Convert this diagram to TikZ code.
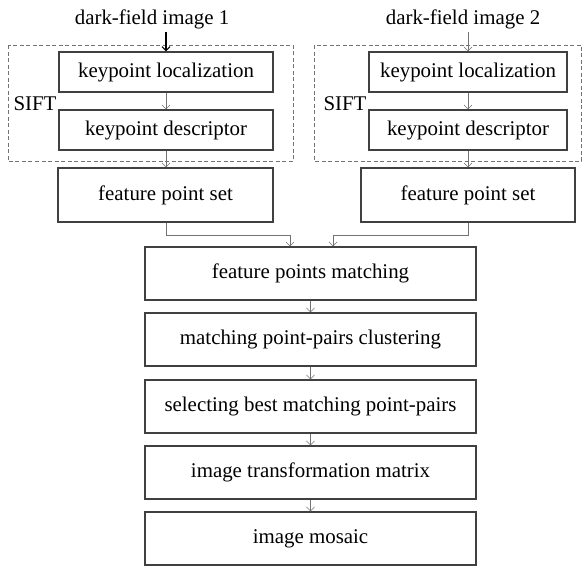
\documentclass[tikz,border=0pt]{standalone}
\usepackage{fontspec}
\setmainfont{Liberation Serif}
\usetikzlibrary{arrows.meta}

\tikzset{
  stage/.style={draw=black!75, line width=1.3pt, minimum height=40pt, inner sep=0pt, font=\fontsize{20.9}{24}\selectfont},
  wide/.style={stage, minimum width=331pt, minimum height=53pt},
  label/.style={inner sep=0pt, font=\fontsize{20.9}{24}\selectfont},
  siftbox/.style={draw=black!55, line width=0.6pt, dash pattern=on 4pt off 2.5pt},
  arr/.style={draw=black!55, line width=0.6pt, -{Straight Barb[length=4pt,width=8pt]}},
}

\begin{document}
\begin{tikzpicture}[x=1pt, y=-1pt]
  \useasboundingbox (0,0) rectangle (582,566);

  % SIFT groups
  \draw[siftbox] (8,45) rectangle (293,161);
  \draw[siftbox] (314,45) rectangle (581.5,161);
  \node (sift1) [label] at (35,104) {SIFT};
  \node (sift2) [label] at (345,104) {SIFT};

  % left branch
  \node (img1) [label] at (152,19) {dark-field image 1};
  \node (loc1) [stage, minimum width=214pt] at (166,72) {keypoint localization};
  \node (desc1) [stage, minimum width=214pt] at (166,130) {keypoint descriptor};
  \node (fps1) [stage, minimum width=215pt, minimum height=54pt] at (165.5,195) {feature point set};

  % right branch
  \node (img2) [label] at (463,19) {dark-field image 2};
  \node (loc2) [stage, minimum width=198pt] at (468,72) {keypoint localization};
  \node (desc2) [stage, minimum width=198pt] at (468,130) {keypoint descriptor};
  \node (fps2) [stage, minimum width=214pt, minimum height=54pt] at (468,195) {feature point set};

  % common chain
  \node (match) [wide] at (310.5,273.5) {feature points matching};
  \node (clust) [wide] at (310.5,339.5) {matching point-pairs clustering};
  \node (best) [wide] at (310.5,406.5) {selecting best matching point-pairs};
  \node (trans) [wide] at (310.5,472.5) {image transformation matrix};
  \node (mosaic) [wide] at (310.5,538.5) {image mosaic};

  \coordinate (in1) at ([xshift=-20.5pt]match.north);
  \coordinate (in2) at ([xshift=22.5pt]match.north);

  \draw[arr, draw=black, line width=1.1pt] (loc1.north |- img1.south) ++(0,3) -- (loc1.north);
  \draw[arr] (loc1) -- (desc1);
  \draw[arr] (desc1) -- (fps1.north -| desc1.south);
  \draw[arr] (fps1.south -| desc1.south) -- ++(0,13) -| (in1);

  \draw[arr] (loc2.north |- img2.south) ++(0,3) -- (loc2.north);
  \draw[arr] (loc2) -- (desc2);
  \draw[arr] (desc2) -- (fps2);
  \draw[arr] (fps2.south) -- ++(0,13) -| (in2);

  \draw[arr] (match) -- (clust);
  \draw[arr] (clust) -- (best);
  \draw[arr] (best) -- (trans);
  \draw[arr] (trans) -- (mosaic);
\end{tikzpicture}
\end{document}
